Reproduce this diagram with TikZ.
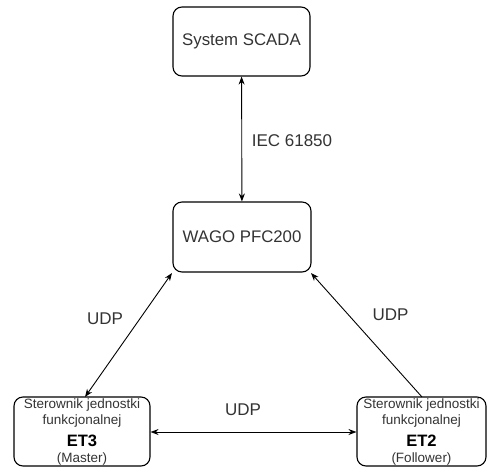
\documentclass[tikz,border=0pt]{standalone}
\usepackage{fontspec}
\setmainfont{Liberation Sans}
\usetikzlibrary{arrows.meta}
\begin{document}
\begin{tikzpicture}[x=1pt,y=-1pt,
  box/.style={draw,rounded corners=9pt,line width=1.1pt,inner sep=0pt},
  conn/.style={line width=0.9pt,{Stealth[length=8pt,width=6pt]}-{Stealth[length=8pt,width=6pt]}},
  lbl/.style={font=\fontsize{17}{20}\selectfont,text=black!80},
  small/.style={font=\fontsize{13.5}{15}\selectfont,text=black!80},
  big/.style={font=\bfseries\fontsize{16.5}{18}\selectfont}]
\useasboundingbox (0,0) rectangle (488,467);
\node[box,minimum width=137pt,minimum height=69pt,font=\fontsize{16.8}{20}\selectfont,text=black!80] (scada) at (241.5,41.5) {System SCADA};
\node[box,minimum width=138pt,minimum height=70pt,font=\fontsize{16.8}{20}\selectfont,text=black!80] (wago) at (242,237) {WAGO PFC200};
\node[box,minimum width=136pt,minimum height=69pt] (et3) at (82,431.5) {};
\node[box,minimum width=129pt,minimum height=69pt] (et2) at (421.5,431.5) {};
\node[small] (et3a) at (82,405) {Sterownik jednostki};
\node[small] (et3b) at (82,421.5) {funkcjonalnej};
\node[big] (et3c) at (82,440.5) {ET3};
\node[small] (et3d) at (82,459) {(Master)};
\node[small] (et2a) at (421.5,405) {Sterownik jednostki};
\node[small] (et2b) at (421.5,421.5) {funkcjonalnej};
\node[big] (et2c) at (421.5,440.5) {ET2};
\node[small] (et2d) at (421.5,459) {(Follower)};
\coordinate (w1) at (172,273);
\coordinate (w2) at (311,273);
\coordinate (e3t) at (85,397);
\coordinate (e2t) at (422,397);
\draw[conn] (scada) -- (wago);
\draw[conn] (e3t) -- (w1);
\draw[line width=0.9pt,-{Stealth[length=8pt,width=6pt]}] (e2t) -- (w2);
\draw[conn] (et3.east |- 0,432) -- (et2.west |- 0,432);
\node[lbl] (l1) at (292,141) {IEC 61850};
\node[lbl] (l2) at (105,319) {UDP};
\node[lbl] (l3) at (390.5,315) {UDP};
\node[lbl] (l4) at (243,409.5) {UDP};
\end{tikzpicture}
\end{document}
